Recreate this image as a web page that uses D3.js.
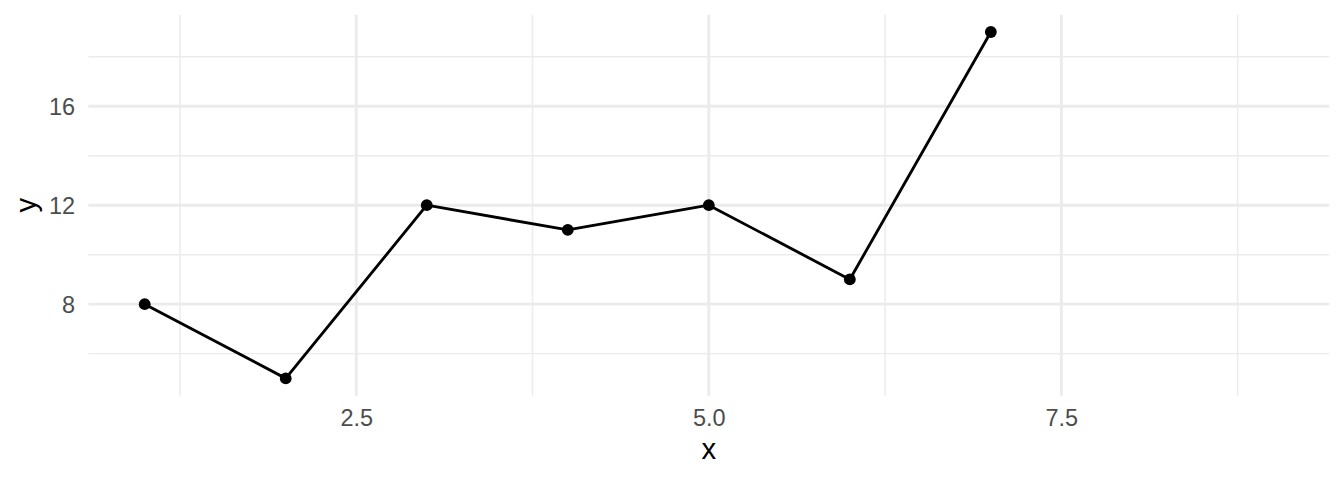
<!DOCTYPE html>
<html>
<head>
<meta charset="utf-8">
<script src="https://cdn.jsdelivr.net/npm/d3@7"></script>
<style>
  html, body { margin: 0; padding: 0; background: #ffffff; }
  svg { display: block; }
</style>
</head>
<body>
<svg id="chart" width="1344" height="480"></svg>
<script>
// ---- data ----
const xValues = [1, 2, 3, 4, 5, 6, 7];
const yValues = [8, 5, 12, 11, 12, 9, 19];
const xLimits = [1, 9];
const xMajorTicks = [2.5, 5.0, 7.5];
const xMinorTicks = [1.25, 3.75, 6.25, 8.75];
const yMajorTicks = [8, 12, 16];
const yMinorTicks = [6, 10, 14, 18];
const xTickLabels = ["2.5", "5.0", "7.5"];
const yTickLabels = ["8", "12", "16"];
const xTitle = "x";
const yTitle = "y";

// ---- layout ----
const panel = { left: 88.3, right: 1329.3, top: 14.7, bottom: 395.7 };
const expand = (lo, hi) => { const d = (hi - lo) * 0.05; return [lo - d, hi + d]; };

const x = d3.scaleLinear().domain(expand(xLimits[0], xLimits[1])).range([panel.left, panel.right]);
const y = d3.scaleLinear().domain(expand(d3.min(yValues), d3.max(yValues))).range([panel.bottom, panel.top]);

const svg = d3.select("#chart");
const font = "'Liberation Sans', Arial, Helvetica, sans-serif";
const grid = "#EBEBEB";

const g = svg.append("g");

// minor grid
g.selectAll("line.xminor").data(xMinorTicks).enter().append("line")
  .attr("x1", d => x(d)).attr("x2", d => x(d))
  .attr("y1", panel.top).attr("y2", panel.bottom)
  .attr("stroke", grid).attr("stroke-width", 1.42);
g.selectAll("line.yminor").data(yMinorTicks).enter().append("line")
  .attr("y1", d => y(d)).attr("y2", d => y(d))
  .attr("x1", panel.left).attr("x2", panel.right)
  .attr("stroke", grid).attr("stroke-width", 1.42);
// major grid
g.selectAll("line.xmajor").data(xMajorTicks).enter().append("line")
  .attr("x1", d => x(d)).attr("x2", d => x(d))
  .attr("y1", panel.top).attr("y2", panel.bottom)
  .attr("stroke", grid).attr("stroke-width", 2.85);
g.selectAll("line.ymajor").data(yMajorTicks).enter().append("line")
  .attr("y1", d => y(d)).attr("y2", d => y(d))
  .attr("x1", panel.left).attr("x2", panel.right)
  .attr("stroke", grid).attr("stroke-width", 2.85);

// axes (labels only, via d3 axes)
const xAxis = d3.axisBottom(x).tickValues(xMajorTicks)
  .tickFormat((d, i) => xTickLabels[i]).tickSize(0).tickPadding(0);
const yAxis = d3.axisLeft(y).tickValues(yMajorTicks)
  .tickFormat((d, i) => yTickLabels[i]).tickSize(0).tickPadding(0);

const xg = svg.append("g").attr("transform", `translate(0,${panel.bottom + 13.2})`).call(xAxis);
xg.select(".domain").remove();
xg.selectAll("text").attr("dy", null).attr("y", 0)
  .attr("dominant-baseline", "hanging")
  .attr("fill", "#4D4D4D").style("font-family", font).style("font-size", "23.47px");
xg.selectAll("text").attr("dominant-baseline", null).attr("y", 17.2);

const yg = svg.append("g").attr("transform", `translate(${panel.left - 13.2},0)`).call(yAxis);
yg.select(".domain").remove();
yg.selectAll("text").attr("dy", "0.36em").attr("x", 0)
  .attr("fill", "#4D4D4D").style("font-family", font).style("font-size", "23.47px");

// line + points
const line = d3.line().x((d, i) => x(xValues[i])).y(d => y(d));
svg.append("path").datum(yValues)
  .attr("d", line).attr("fill", "none").attr("stroke", "#000")
  .attr("stroke-width", 2.85).attr("stroke-linejoin", "round").attr("stroke-linecap", "butt");
svg.selectAll("circle.pt").data(yValues).enter().append("circle")
  .attr("cx", (d, i) => x(xValues[i])).attr("cy", d => y(d))
  .attr("r", 5.9).attr("fill", "#000");

// titles
svg.append("text").text(xTitle)
  .attr("x", (panel.left + panel.right) / 2).attr("y", 459)
  .attr("text-anchor", "middle").attr("fill", "#000")
  .style("font-family", font).style("font-size", "29.33px");
svg.append("text").text(yTitle)
  .attr("transform", `translate(35.5,${(panel.top + panel.bottom) / 2}) rotate(-90)`)
  .attr("text-anchor", "middle").attr("fill", "#000")
  .style("font-family", font).style("font-size", "29.33px");
</script>
</body>
</html>
